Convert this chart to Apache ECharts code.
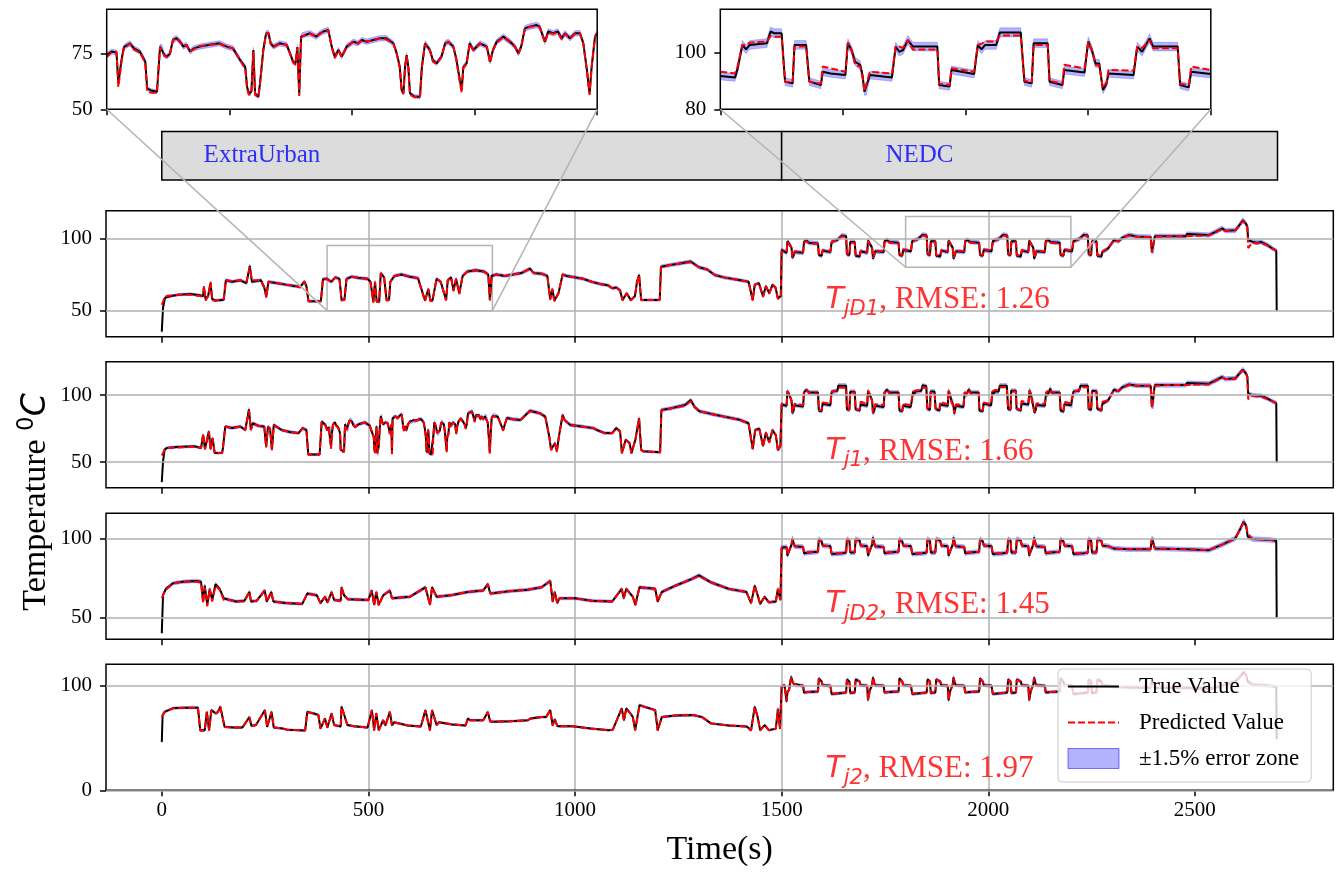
<!DOCTYPE html>
<html><head><meta charset="utf-8">
<script src="https://cdn.jsdelivr.net/npm/echarts@6/dist/echarts.min.js"></script>
<style>html,body{margin:0;padding:0;background:#fff}#c{width:1338px;height:872px}</style>
</head><body><div id="c"></div>
<script>
// ---------------- data ----------------
const xTicks = [0, 500, 1000, 1500, 2000, 2500];
const yTicks = [[50, 100], [50, 100], [50, 100], [0, 100]];
const insetXTicks = [[400, 500, 600, 700, 800], [1800, 1900, 2000, 2100, 2200]];
const insetYTicks = [[50, 75], [80, 100]];
const panelSub = ['jD1', 'j1', 'jD2', 'j2'];
const rmse = [1.26, 1.66, 1.45, 1.97];
const ERR = 0.015; // ±1.5 % error zone
const segments = [{name: 'ExtraUrban', from: 0, to: 1500, labelAt: 100}, {name: 'NEDC', from: 1500, to: 2700, labelAt: 1750}];
const zoomWindows = [{x: [400, 800], y: [50, 95]}, {x: [1800, 2200], y: [80, 115.1]}];

// rows: [time s, true value, predicted value]
const s1 = [
[0,35.5,54],[3,52,55],[8,59,60],[20,60,60.5],[40,61,61],[70,61.5,61],[95,60.5,60],[100,60,61],[102,66,67],[106,58,57],[112,60,60],[118,69,70],[122,58,57],[130,57,57],[150,57.5,58],[155,71,71],[170,70,70.5],[190,71,71],[205,69,70],[213,81,80],[218,70,71],[240,71,71],[248,66,66],[253,59.7,59],[258,70,70],[280,69,69],[300,68,68],[320,67,67.5],[335,66.5,66],[345,70,70.5],[350,67,67],[355,56.5,56.5],[385,56.5,56.5],[390,71.7,72],[400,72,72],[410,70,69.5],[420,73,73],[430,72,72],[435,57.5,57],[442,57.5,57.5],[447,72,72],[460,73.5,73.5],[480,72.5,72.5],[498,72,72],[505,70,70],[512,56,55.5],[516,70,70],[520,56.5,56],[526,56,56],[530,76,76],[538,73,73],[544,57.4,57],[550,57.4,57.4],[553,70,70],[563,74,74],[580,75,75],[600,73.5,73.5],[620,72.5,72.5],[637,57,56.5],[645,65,65],[650,57,56.5],[655,57,57],[665,72,72],[675,70,70],[688,57.4,57],[692,71,71],[700,73,73],[706,64,63.5],[712,72,72],[720,62,61.5],[728,74,74],[739,77,77],[760,78,78],[780,77,77],[790,75,75],[794,57.4,57],[798,74,74],[810,75,75],[830,74,74],[850,75,75],[870,76,76],[891,79,79],[900,76,76],[920,75.5,75.5],[933,74,74],[940,58,57.5],[945,65,65],[950,57,56.5],[960,62,62],[970,75,75],[980,74,74],[1000,73,73],[1020,72,72],[1040,70,70],[1060,68.5,68.5],[1080,67.5,67.5],[1090,65.5,65.5],[1100,66,66],[1109,64,64],[1115,57.4,57],[1125,62,62],[1135,57.4,57],[1145,60,60],[1150,70,70],[1155,74.7,74.5],[1160,57.4,57.4],[1205,57.4,57.4],[1208,80.4,80],[1230,81.5,81.5],[1250,82.5,82.5],[1280,84,83.5],[1300,80,80],[1320,78.5,78.5],[1338,74.7,74.7],[1360,73,73],[1390,71.5,71.5],[1420,70,70],[1430,57.4,57],[1435,68,68],[1445,69,69],[1455,60,59.5],[1462,67,67],[1470,62,62],[1478,68,68],[1485,66,66],[1491,58.6,58],[1498,60,60],
[1500,92,91],[1512,90,90.5],[1514,98,97.5],[1518,96.5,96.5],[1524,93.5,93.5],[1526,86.5,87],[1529,88,88.5],[1531,90.5,91],[1552,90,90.5],[1554,97.5,97],[1560,98.5,98],[1566,97,96.5],[1588,96.5,96],[1590,88.5,89],[1597,88,88.5],[1599,91.5,92],[1618,90.5,91],[1621,97.5,97.5],[1635,99,99],[1646,102,101.5],[1656,101.5,101],[1658,89,89.5],[1664,88.5,89],[1666,97.5,97],[1677,97.5,97],[1679,88,88.5],[1689,87.5,88],[1691,91,91.5],
[1707,90,90.5],[1709,98.5,98],[1713,96.5,96.5],[1719,93.5,93.5],[1721,86,86.5],[1724,88,88.5],[1726,91,91.5],[1747,90.5,91],[1749,98,97.5],[1755,99,98.5],[1761,97.5,97],[1783,97,96.5],[1785,88.5,89],[1792,88,88.5],[1794,92,92.5],[1813,91,91.5],[1816,98,98],[1830,99.5,99.5],[1841,102.5,102],[1851,102,101.5],[1853,89,89.5],[1859,88.5,89],[1861,98,97.5],[1872,98,97.5],[1874,88,88.5],[1884,87.5,88],[1886,91.5,92],
[1902,90.5,91],[1904,98.5,98],[1908,96.5,96.5],[1914,93.5,93.5],[1916,86,86.5],[1919,88,88.5],[1921,91,91.5],[1942,90.5,91],[1944,98,97.5],[1950,99,98.5],[1956,97.5,97],[1978,97,96.5],[1980,88.5,89],[1987,88,88.5],[1989,92,92.5],[2008,91,91.5],[2011,98,98],[2025,99.5,99.5],[2036,102.5,102],[2046,102,101.5],[2048,89,89.5],[2054,88.5,89],[2056,98,97.5],[2067,98,97.5],[2069,88,88.5],[2079,87.5,88],[2081,91.5,92],
[2097,90.5,91],[2099,98.5,98],[2103,96.5,96.5],[2109,93.5,93.5],[2111,86,86.5],[2114,88,88.5],[2116,91,91.5],[2137,90.5,91],[2139,98,97.5],[2145,99,98.5],[2151,97.5,97],[2173,97,96.5],[2175,88.5,89],[2182,88,88.5],[2184,92,92.5],[2203,91,91.5],[2206,98,98],[2220,99.5,99.5],[2231,102.5,102],[2241,102,101.5],[2243,89,89.5],[2249,88.5,89],[2251,98,97.5],[2262,98,97.5],[2264,88,88.5],[2274,87.5,88],[2276,90.5,91],
[2290,93,93],[2304,98.8,98.5],[2315,98,98],[2325,100.5,100.5],[2341,102.3,102],[2360,101.2,101],[2393,101,101],[2396,91,90],[2400,91,90.5],[2403,101.5,101],[2440,101.5,101.5],[2478,101.5,101.5],[2481,103,102.5],[2534,102.3,102],[2550,104.5,104],[2566,106.9,106.5],[2574,105.3,105],[2598,105.5,105.5],[2610,110,109.5],[2616,112.5,112],[2624,110,110],[2627,108,107],[2629,98.8,93.3],[2639,97.7,97],[2650,97,96.5],[2660,97.5,97],[2675,95.5,95],[2687,93.1,93],[2697,91.5,91.5],[2698,50,null]
];

const s2a = [
[0,35.2,55],[3,50.7,56],[7,59.4,59.5],[12,60.6,60.5],[35,61.3,61],[80,61.8,61.5],[95,60.6,60.5],[100,70.4,71],[104.5,60,59.5],[114,72.9,73],[118,60,59.5],[123,68,68],[128,56.9,56.5],[146,56.9,57],[148,60.6,60.5],[153.6,76.6,76.5],[170,75.5,75.5],[190,76.6,76.5],[202,74,74],[211,89.4,88.5],[215.6,74,74],[220,79,78.5],[235,77,77],[248,76.6,76.5],[252.6,61.8,61],[257,76.6,76.5],[262,75,75],[266.5,59.4,59],[271,77.8,77.5],[290,74,74],[310,72.5,72.5],[331,71.7,71.5],[340.6,75.4,75],[350,74,74],[354.5,55.7,55.5],[382,55.7,56],[387,80.3,80],[396,77.8,77.5]
];
const zoomA = [
[400,74.4,73.5],[404,76,75.5],[408,75.5,76],[409.5,61.7,60],[412,72,71],[414,78,77.5],[419,79.7,79.5],[422,77.5,77],[427,76,75.5],[430,73,72.5],[431.5,71.4,70],[433,59.4,58],[436,58.5,57.5],[441,57.9,57.5],[443.5,78.2,78],[445,78,78],[447,74.4,74],[449,73.7,73.5],[451.6,75,75],[454,81.2,81],[457,82,82],[460,80.4,80],[462.5,78.2,78.5],[465,79,79],[468,76,76],[471,77.4,77],[476,78.2,78.5],[484,79,79],[492,79.7,79.5],[498,78.2,78],[503,77.4,77.5],[509,72,72],[513,69,68],[514.5,60,59],[516,57,56.5],[518,58,57],[519.6,76.7,76],[521,57,56.5],[523.7,55.7,55.5],[525,61.7,61],[527.7,76.7,76.5],[530,84.2,84],[532,84.2,84.5],[533.7,79.7,79.5],[536,78.2,78],[541,79.7,79.5],[546.8,79,79],[549.5,75.2,75],[552,71.4,71],[554,70.7,70],[555.5,78,78],[557,57.2,56],[558.5,82.7,82],[560,83.4,83],[565.8,84.2,84],[571,82.7,82.5],[574,84.2,84],[576.7,85,85],[580.7,85.7,85.5],[583.5,78.2,78],[586,73.7,73],[589,76.7,76.5],[591.6,73.7,73.5],[595.7,78.2,78],[601,80.4,80.5],[605,79.7,79.5],[608,81.2,81],[612,80.4,80.5],[617.4,81.2,81],[622.9,82,82],[628,82,81.5],[633.8,79.7,79.5],[636.5,75.2,75],[639,69.2,68.5],[640.5,58.7,58],[642,57.2,57],[643.3,69.2,69],[644.6,74.4,74],[646,69,68.5],[647.3,57.2,56.5],[651,55.7,55.5],[655.5,55.7,55.5],[657,69,68.5],[659.6,79.7,79.5],[663.6,76.7,76.5],[666,72,71.5],[669,70.7,70.5],[673,73.7,73.5],[676,79.7,79.5],[678.6,80.4,80.5],[682.7,78.2,78],[685,73,72.5],[688,63.2,62],[689.5,58.7,57.5],[690.8,69,68.5],[693.5,70.7,70.5],[696,79.7,79.5],[699,76.7,76.5],[704.4,79.7,79.5],[710,78.2,78],[712.6,71.4,71],[715,76.7,76.5],[718,80.4,80],[723.5,82.7,82.5],[729,80.4,80],[733,78.2,78],[735.7,75.2,75],[738,78.2,78],[741,86.4,86],[745,87.2,87],[750.6,87.9,87.5],[753,87.2,87],[757.4,80.4,80],[760,85,84.5],[764,84.2,84],[768,85,84.5],[771,82,81.5],[773.7,84.2,84],[777.8,82,82],[782,84.2,84],[786,84.2,84],[788.7,79.7,79.5],[791.6,67.7,67],[793.8,57.2,56.5],[795.5,69.2,69],[798.2,82.7,82.5],[800,84.2,84]
];
const s2b = [
[803,85.2,85],[813,84,84],[826,74,73.5],[835,83,83],[850,82,82],[868,81.5,81.5],[891,88.4,88],[914.5,86.5,86.5],[928,84,84],[937.6,69.2,69],[942,59.4,59],[951.5,64.3,64],[956,58.1,58],[961,69.2,69],[970,85.2,85],[974.6,81.5,81.5],[988.5,77.8,77.5],[1020,76.5,76.5],[1044,75.4,75.5],[1053,74,74],[1072,71.7,71.5],[1090,71.7,71.5],[1099.6,75.4,75],[1109,73,73],[1113.5,56.9,56.5],[1122.7,66.8,66.5],[1132,64.3,64],[1136.6,56.9,56.5],[1146,66.8,66.5],[1155,82.8,82.5],[1160,59.4,59],[1165,58.1,58],[1206,57.4,57.5],[1209,88.9,88.5],[1230,90,90],[1266,92.6,92],[1280,96.3,95.5],[1289,91.4,91],[1301,88,88],[1330,86,86],[1360,84,84],[1398,81.7,81.5],[1420,79,79],[1430,60,59.5],[1436,74,73.5],[1446,75,75],[1455,62,61.5],[1462,72,72],[1470,65,64.5],[1478,74,74],[1486,70,70],[1491,59,58.5],[1497,62,62],
[1500,93,93.5],[1512,92,93],[1514,103,103],[1518,100.5,101],[1524,96,95.5],[1526,86.5,87],[1529,88.5,89],[1531,92.5,93.5],[1552,91.5,92.5],[1554,102,102],[1560,104,104],[1566,102,101.5],[1588,102,101],[1590,88.5,89],[1597,88,88.5],[1599,93.5,94.5],[1618,92.5,93.5],[1621,102.5,102.5],[1635,103.2,103.8],[1637,107,105.5],[1656,107,105.5],[1658,89.5,89.5],[1664,89,89.5],[1666,102.5,102],[1677,102.5,102],[1679,89.5,89.5],[1689,88.5,89],[1691,93,95],
[1707,92,93.5],[1709,103,103.5],[1713,100.5,101],[1719,96,95.5],[1721,86.5,87],[1724,88,88.5],[1726,92,93.2],[1747,91.2,92.6],[1749,102,102],[1755,104,104],[1761,102,101],[1783,102,101],[1785,88.5,89],[1792,88,88.5],[1794,92.5,93.5]
];
const zoomB = [
[1800,91.7,93.2],[1812,91.2,92.6],[1814,94,95],[1818,102.6,102.6],[1821,101,102.6],[1824,102.6,103.4],[1838,103.2,103.8],[1841,107.3,105.7],[1844,106.7,105.5],[1850,106.7,105.5],[1852.8,89.7,89.7],[1859,89.1,89.5],[1860.5,102.6,102],[1870,102.6,102],[1872.6,89.7,89.7],[1882,88.5,89],[1883.5,93.2,95],[1890,92.6,94.4],[1902,92,93.2],[1904,103.2,103.5],[1907,100.8,101],[1910,96.7,95.5],[1914,95.6,95],[1916,92,91],[1917.5,86.2,86.5],[1919,86.2,87],[1922,92,93.2],[1940,91.2,92.6],[1943,102,102],[1946,100.2,102],[1949,100.8,101.5],[1953,104.3,104.3],[1957,102,101],[1977,102,101],[1978.5,88.5,89],[1987,88,88.5],[1988.5,93.8,94.4],[2007,92.4,93.2],[2010,102.6,102.6],[2013,101,103],[2016,102.6,103.8],[2025,102.6,103.8],[2028,107,105.9],[2045,107,105.9],[2048,89.7,90],[2054,89.1,89.5],[2055.5,103.2,102.6],[2067,103.2,102.6],[2068.5,89.7,90],[2079,88.5,89],[2080.5,93.8,95.6],[2097,92.9,94.4],[2100,103.8,103.5],[2103,100.8,101],[2106,96.1,95.5],[2109,96.1,95.5],[2112,86.8,87.5],[2115,89,89.5],[2116.5,92.6,93.8],[2137,92,93.6],[2140,102,102],[2144,100.2,101.5],[2150,104.9,104.3],[2153,102,101.4],[2173,102,101.4],[2175,88.5,89],[2182,87.7,88.5],[2184,93.2,95],[2200,92.4,93.8]
];
const s2c = [
[2203,92,93.5],[2206,102.6,102.6],[2220,103.2,103.8],[2223,107,105.9],[2241,107,105.9],[2243,89.7,90],[2249,89.1,89.5],[2251,103,102.6],[2262,103,102.6],[2264,89.7,90],[2274,88.5,89],[2276,93.5,95],
[2290,96,96],[2304,104,103.5],[2315,103,103],[2325,106,105.5],[2341,108,107.5],[2360,107,107],[2393,107,107],[2396,91,90.5],[2400,91.5,91],[2403,107.5,107],[2440,107.5,107.5],[2478,107.5,107.5],[2481,109,108.5],[2534,108.5,108],[2550,111,110.5],[2566,113.5,113],[2574,112,112],[2598,112.5,112],[2610,117,116.5],[2616,119,118.5],[2624,116,116],[2627,114,113],[2629,101,97],[2639,100,99.5],[2650,99.5,99],[2660,99.5,99],[2675,97.5,97],[2687,95.5,95.5],[2697,94,94],[2698,50,null]
];

const s3 = [
[0,40,62],[3,64,64],[10,68,67.5],[27,71.5,71.5],[50,72.5,72.5],[84,73,72.5],[95,72.5,72],[100,60,59],[104,70,69],[110,58,57],[116,68,68],[122,61,60],[130,71,70],[140,68,67.5],[150,62,61],[165,61,61],[180,60,60],[200,60.5,60],[212,66,66],[216,60,60],[230,60.5,60.5],[249,67,67],[254,60,60],[265,66,66],[270,60,60],[300,59,59],[340,58.5,58.5],[352,65,65],[375,64,64],[384,59,59],[395,63,63],[401,59.5,59.5],[411,66,66],[417,61,61],[433,60.5,60.5],[435,69,69],[441,64,64],[450,61.5,61.5],[500,61,61],[508,67,67],[514,58,57.5],[519,66,66],[525,58,57.5],[536,64,64],[552,67,67],[557,62,62],[600,63,63],[638,69,69],[649,58,57.5],[654,69,69],[665,63,63],[700,64,64],[740,66,66],[778,67,67],[789,71,71],[795,65,65],[840,66.5,66.5],[886,67.5,67.5],[919,69,69],[940,73,73],[946,60,60],[951,66,66],[957,59,59],[962,62,62],[1000,62,62],[1040,60.5,60.5],[1090,60,60],[1113,68,68],[1118,62,62],[1124,68,68],[1140,63,63],[1146,58,57.5],[1156,69,69],[1194,68,68],[1200,60,60],[1210,66,66],[1243,70,70],[1280,74,74],[1300,76.5,76],[1330,72,72],[1372,68,68],[1415,66,66],[1426,59,59],[1435,70,70],[1442,64,64],[1448,58.5,58.5],[1459,63,63],[1469,59.5,59.5],[1486,60,60],[1491,68,68],[1497,61,61],
[1500,94,94],[1512,94.5,94.5],[1514,89,89.5],[1518,92,92],[1524,96,96],[1526,100,99.5],[1529,97,97],[1531,95,95],[1552,94.5,94.5],[1554,90.5,91],[1566,91,91],[1588,91.5,91.5],[1590,99.5,99],[1597,98,98],[1599,95.5,95.5],[1618,95,95],[1621,90,90.5],[1646,90.5,90.5],[1656,91,91],[1658,99.5,99],[1664,98.5,98.5],[1666,91,91.5],[1677,91,91],[1679,99.5,99],[1689,98.5,98.5],[1691,95.5,95.5],
[1707,95,95],[1709,89,89.5],[1713,92,92],[1719,96,96],[1721,100.5,100],[1724,97,97],[1726,95,95],[1747,94.5,94.5],[1749,90.5,91],[1761,91,91],[1783,91.5,91.5],[1785,99.5,99],[1792,98,98],[1794,95.5,95.5],[1813,95,95],[1816,90,90.5],[1841,90.5,90.5],[1851,91,91],[1853,99.5,99],[1859,98.5,98.5],[1861,91,91.5],[1872,91,91],[1874,99.5,99],[1884,98.5,98.5],[1886,95.5,95.5],
[1902,95,95],[1904,89,89.5],[1908,92,92],[1914,96,96],[1916,100.5,100],[1919,97,97],[1921,95,95],[1942,94.5,94.5],[1944,90.5,91],[1956,91,91],[1978,91.5,91.5],[1980,99.5,99],[1987,98,98],[1989,95.5,95.5],[2008,95,95],[2011,90,90.5],[2036,90.5,90.5],[2046,91,91],[2048,99.5,99],[2054,98.5,98.5],[2056,91,91.5],[2067,91,91],[2069,99.5,99],[2079,98.5,98.5],[2081,95.5,95.5],
[2097,95,95],[2099,89,89.5],[2103,92,92],[2109,96,96],[2111,100.5,100],[2114,97,97],[2116,95,95],[2137,94.5,94.5],[2139,90.5,91],[2151,91,91],[2173,91.5,91.5],[2175,99.5,99],[2182,98,98],[2184,95.5,95.5],[2203,95,95],[2206,90,90.5],[2231,90.5,90.5],[2241,91,91],[2243,99.5,99],[2249,98.5,98.5],[2251,91,91.5],[2262,91,91],[2264,99.5,99],[2274,98.5,98.5],[2276,95.5,95.5],
[2290,95,95],[2304,93.5,93.5],[2341,93,93],[2393,93,93],[2396,100,99.5],[2400,99,99],[2403,93.5,93.5],[2480,93,93],[2534,92.5,92.5],[2566,96,96],[2598,100,100],[2610,106,106],[2618,110.5,110],[2624,108,108],[2628,101,103],[2640,99.5,99.5],[2680,99,99],[2697,98.5,98.5],[2698,50,null]
];

const s4 = [
[0,46.3,70],[2,71.9,70],[6.5,75,74.5],[28,78.6,78.5],[60,79,79],[87.5,79,79],[93,57.5,57],[104,57.5,57],[109,75,75],[114.5,57.5,57],[120,76.7,76.5],[131,73.5,73.5],[136,75,75],[141.5,80,80],[147,70,70],[152,60.7,60.5],[174,60,60],[195,60,60],[212,70,70],[217,61.5,61.5],[228,62.4,62.4],[249.5,76.7,76.5],[255,60.7,60.5],[265.6,75,75],[271,60,60],[293,59,59],[303,58,58],[347,57.2,57.2],[352,75,74.5],[368,73.5,73.5],[379,72,72],[384,59,59],[395,68.7,68.5],[400.6,60,60],[411,73.5,73.5],[417,62.4,62.4],[433,61,61],[435,80,79.5],[441.6,72,72],[449,62.4,62.4],[465,61.3,61.3],[498,60,60],[508.5,76.7,76.5],[514,57.5,57],[519,73.5,73.5],[525,57.5,57],[535.6,67,67],[541,62,62],[552,75,75],[557,62,62],[562.5,65,65],[595,62,62],[627,61,61],[638,76.7,76.5],[649,57.5,57],[654,76.7,76.5],[665,62.4,62.4],[670.5,65,65],[703,63,63],[735,62,62],[740.7,68.7,68.5],[746,67,67],[778,67,67],[789,75,75],[794.6,66,66],[800,65.5,65.5],[843,66,66],[886,67,67],[892,68.7,68.5],[919,70,70],[930,70,70],[940,76.7,76.5],[946,62,62],[951,68,68],[957,61.5,61.5],[962,61.3,61.3],[994,61.3,61.3],[1005,60.7,60.7],[1038,59,59],[1081,57.5,57.5],[1091.5,58,58],[1113,78.3,78],[1118.5,67,67],[1124,78.3,78],[1135,73,73],[1140,70,70],[1145.5,57.5,57],[1156,81.5,81],[1167,80,80],[1194,76.7,76.5],[1200,57.5,57],[1210,70,70],[1243,71.5,71.5],[1286,72,72],[1307.5,70,70],[1329,64,64],[1372,62,62],[1415.5,61,61],[1426,57.5,57],[1435,80,79.5],[1442,70,70],[1448,57.5,57],[1459,62.4,62.4],[1469,57.5,57.5],[1486,59,59],[1491,78,77.5],[1496,59,59],
[1500,99,99],[1507,100.5,100.5],[1512,84.7,85.5],[1514,94,94],[1518,96,96],[1523,108.6,108],[1526,104,104],[1529,102,102],[1531,100.5,100.5],[1552,100,100],[1554,93.5,94],[1566,94,94],[1588,94.5,94.5],[1590,107,106.5],[1597,104,104],[1599,100.5,100.5],[1618,100,100],[1621,92,92.5],[1646,93,93],[1656,93.5,93.5],[1658,106,105.5],[1664,104,104],[1666,93,93.5],[1677,93.5,93.5],[1679,106,105.5],[1689,104,104],[1691,100.5,100.5],
[1707,100,100],[1709,86,86.5],[1713,95,95],[1719,101,101],[1721,108,107.5],[1724,103,103],[1726,100.5,100.5],[1747,100,100],[1749,93.5,94],[1761,94,94],[1783,94.5,94.5],[1785,107,106.5],[1792,104,104],[1794,100.5,100.5],[1813,100,100],[1816,92,92.5],[1841,93,93],[1851,93.5,93.5],[1853,106,105.5],[1859,104,104],[1861,93,93.5],[1872,93.5,93.5],[1874,106,105.5],[1884,104,104],[1886,100.5,100.5],
[1902,100,100],[1904,86,86.5],[1908,95,95],[1914,101,101],[1916,108,107.5],[1919,103,103],[1921,100.5,100.5],[1942,100,100],[1944,93.5,94],[1956,94,94],[1978,94.5,94.5],[1980,107,106.5],[1987,104,104],[1989,100.5,100.5],[2008,100,100],[2011,92,92.5],[2036,93,93],[2046,93.5,93.5],[2048,106,105.5],[2054,104,104],[2056,93,93.5],[2067,93.5,93.5],[2069,106,105.5],[2079,104,104],[2081,100.5,100.5],
[2097,100,100],[2099,86,86.5],[2103,95,95],[2109,101,101],[2111,108,107.5],[2114,103,103],[2116,100.5,100.5],[2137,100,100],[2139,93.5,94],[2151,94,94],[2173,94.5,94.5],[2175,107,106.5],[2182,104,104],[2184,100.5,100.5],[2203,100,100],[2206,92,92.5],[2231,93,93],[2241,93.5,93.5],[2243,106,105.5],[2249,104,104],[2251,93,93.5],[2262,93.5,93.5],[2264,106,105.5],[2274,104,104],[2276,100.5,100.5],
[2290,100,100],[2304,99,99],[2341,98.5,98.5],[2393,98,98],[2396,105,104.5],[2400,104,104],[2403,98,98],[2480,98,98],[2534,97,97],[2566,100,100],[2598,104,104],[2610,109,109],[2618,113,112.5],[2624,110,110],[2628,104,105],[2640,101,101],[2680,100,100],[2697,99,99],[2698,49,null]
];

const s2 = [].concat(s2a, zoomA, s2b, zoomB, s2c);
const panels = [s1, s2, s3, s4];
const insets = [zoomA, zoomB];

// ---------------- chart ----------------
const chart = echarts.init(document.getElementById('c'), null, {renderer: 'canvas'});
const SERIF = 'Liberation Serif';
const GRID_LEFT = 106, GRID_W = 1227.3;
const panelTop = [210.7, 361.7, 513.3, 664.3];
const panelH = 126;
const yRange = [[32, 119.1], [31, 124.9], [36.1, 115.8], [0, 120.5]];
const noteY = [57.5, 58, 58, 20.5];
const BAND_FILL = 'rgba(0,0,255,0.3)';
const GRID_GRAY = '#b0b0b0';

const grids = [], xAxes = [], yAxes = [], series = [];
const tickStyle = {show: true, inside: false, length: 6, lineStyle: {color: '#000', width: 1.5}};
const noLine = {show: false, onZero: false};
const fmt = v => String(v);

function addPanelSeries(idx, rows, withMarks) {
  // error band polygon drawn through the axes' own scales
  series.push({type: 'custom', name: '±1.5% error zone', xAxisIndex: idx, yAxisIndex: idx, silent: true, z: 1,
    itemStyle: {color: BAND_FILL},
    data: [[rows[0][0], rows[0][1]]],
    renderItem: function (params, api) {
      const up = rows.map(r => api.coord([r[0], r[1] * (1 + ERR)]));
      const lo = rows.map(r => api.coord([r[0], r[1] * (1 - ERR)])).reverse();
      return {type: 'polygon', shape: {points: up.concat(lo)},
        style: {fill: BAND_FILL, stroke: 'rgba(0,0,255,0.25)', lineWidth: 0.8}};
    }});
  const trueSeries = {type: 'line', name: 'True Value', xAxisIndex: idx, yAxisIndex: idx,
    data: rows.map(r => [r[0], r[1]]),
    symbol: 'none', silent: true, color: '#000', lineStyle: {width: 2, color: '#000'}, z: 2};
  if (withMarks) {
    trueSeries.markArea = {silent: true, itemStyle: {color: 'rgba(0,0,0,0)', borderColor: '#b4b4b4', borderWidth: 1.5},
      data: zoomWindows.map(w => [{xAxis: w.x[0], yAxis: w.y[0]}, {xAxis: w.x[1], yAxis: w.y[1]}])};
  }
  series.push(trueSeries);
  series.push({type: 'line', name: 'Predicted Value', xAxisIndex: idx, yAxisIndex: idx,
    data: rows.filter(r => r[2] != null).map(r => [r[0], r[2]]),
    symbol: 'none', silent: true, color: '#ff0000', lineStyle: {width: 2, color: '#ff0000', type: [7, 3]}, z: 3});
}

for (let i = 0; i < 4; i++) {
  grids.push({left: GRID_LEFT, top: panelTop[i], width: GRID_W, height: panelH, show: true,
    borderColor: '#000', borderWidth: 1.5, backgroundColor: 'rgba(0,0,0,0)', z: 5});
  xAxes.push({type: 'value', gridIndex: i, position: 'bottom', min: -135, max: 2835, minInterval: 500, maxInterval: 500,
    axisLine: noLine, axisTick: Object.assign({customValues: xTicks}, tickStyle),
    axisLabel: {show: i === 3, customValues: xTicks, formatter: fmt,
      fontFamily: SERIF, fontSize: 21, color: '#000', margin: 10},
    splitLine: {show: true, showMinLine: false, showMaxLine: false, lineStyle: {color: GRID_GRAY, width: 1.5}},
    name: i === 3 ? 'Time(s)' : '', nameLocation: 'middle', nameGap: 43,
    nameTextStyle: {fontFamily: SERIF, fontSize: 34, color: '#000'}});
  yAxes.push({type: 'value', gridIndex: i, position: 'left', min: yRange[i][0], max: yRange[i][1],
    axisLine: noLine, axisTick: Object.assign({customValues: yTicks[i]}, tickStyle),
    axisLabel: {customValues: yTicks[i], formatter: fmt,
      fontFamily: SERIF, fontSize: 21, color: '#000', margin: 14},
    splitLine: {show: false}});
  // horizontal grid lines at the y ticks
  series.push({type: 'line', xAxisIndex: i, yAxisIndex: i, data: [[-1000, -1000]], symbol: 'none', silent: true, z: 0,
    lineStyle: {width: 0},
    markLine: {silent: true, symbol: ['none', 'none'], label: {show: false}, animation: false,
      lineStyle: {color: GRID_GRAY, width: 1.5, type: 'solid'},
      data: yTicks[i].map(v => ({yAxis: v}))}});
  addPanelSeries(i, panels[i], i === 0);
  series.push({type: 'scatter', xAxisIndex: i, yAxisIndex: i, silent: true, symbolSize: 1,
    itemStyle: {color: 'rgba(0,0,0,0)'}, data: [[1600, noteY[i]]], z: 6,
    label: {show: true, position: 'right', distance: 2,
      formatter: '{a|T}{b|' + panelSub[i] + '}{c|, RMSE: ' + rmse[i].toFixed(2) + '}',
      rich: {
        a: {fontFamily: 'DejaVu Sans', fontStyle: 'italic', fontSize: 30, color: '#ff0000', lineHeight: 40},
        b: {fontFamily: 'DejaVu Sans', fontStyle: 'italic', fontSize: 21, color: '#ff0000', lineHeight: 20, verticalAlign: 'bottom'},
        c: {fontFamily: SERIF, fontSize: 31, color: '#ff0000', lineHeight: 40}
      }}});
}

// insets
const insetLeft = [106.7, 720.3];
for (let k = 0; k < 2; k++) {
  const gi = 4 + k;
  const w = zoomWindows[k];
  grids.push({left: insetLeft[k], top: 9.3, width: 490.5, height: 100, show: true,
    borderColor: '#000', borderWidth: 1.5, backgroundColor: 'rgba(0,0,0,0)', z: 5});
  xAxes.push({type: 'value', gridIndex: gi, position: 'bottom', min: w.x[0], max: w.x[1], minInterval: 100, maxInterval: 100,
    axisLine: noLine, axisTick: Object.assign({customValues: insetXTicks[k]}, tickStyle),
    axisLabel: {show: false}, splitLine: {show: false}});
  yAxes.push({type: 'value', gridIndex: gi, position: 'left', min: w.y[0], max: w.y[1],
    axisLine: noLine, axisTick: Object.assign({customValues: insetYTicks[k]}, tickStyle),
    axisLabel: {customValues: insetYTicks[k], formatter: fmt,
      fontFamily: SERIF, fontSize: 21, color: '#000', margin: 14},
    splitLine: {show: false}});
  addPanelSeries(gi, insets[k], false);
}

// driving-cycle banner
grids.push({left: GRID_LEFT, top: 131.5, width: GRID_W, height: 48.5, show: false});
xAxes.push({type: 'value', gridIndex: 6, min: -135, max: 2835, show: false});
yAxes.push({type: 'value', gridIndex: 6, min: 0, max: 1, show: false});
series.push({type: 'scatter', xAxisIndex: 6, yAxisIndex: 6, silent: true, symbolSize: 1,
  itemStyle: {color: 'rgba(0,0,0,0)'},
  data: segments.map(s => ({value: [s.labelAt, 0.5], name: s.name})),
  label: {show: true, position: 'right', distance: 0, formatter: p => p.name,
    fontFamily: SERIF, fontSize: 25, color: '#0000ff'},
  markArea: {silent: true, itemStyle: {color: '#dcdcdc', borderColor: '#000', borderWidth: 1.5},
    data: segments.map(s => [{xAxis: s.from, yAxis: 0}, {xAxis: s.to, yAxis: 1}])},
  z: 4});

const yLabel = {type: 'text', id: 'ylab', x: 36, y: 502, rotation: Math.PI / 2, silent: true,
  style: {text: '{t|Temperature }{s|0}{c|C}', align: 'center', verticalAlign: 'middle',
    rich: {
      t: {fontFamily: SERIF, fontSize: 34, fill: '#000', lineHeight: 40},
      s: {fontFamily: 'DejaVu Sans', fontSize: 23, fill: '#000', lineHeight: 40, verticalAlign: 'top', padding: [0, 0, 14, 0]},
      c: {fontFamily: 'DejaVu Sans', fontStyle: 'italic', fontSize: 33, fill: '#000', lineHeight: 40}
    }}};

chart.setOption({
  animation: false,
  backgroundColor: '#fff',
  grid: grids, xAxis: xAxes, yAxis: yAxes, series: series,
  legend: {show: true, selectedMode: false, orient: 'vertical', left: 1058, top: 669,
    itemWidth: 51, itemHeight: 20, itemGap: 13, padding: [6, 12, 12, 9],
    backgroundColor: 'rgba(255,255,255,0.8)', borderColor: '#cccccc', borderWidth: 1, borderRadius: 4,
    textStyle: {fontFamily: SERIF, fontSize: 23, color: '#000', padding: [0, 0, 0, 15]},
    data: [{name: 'True Value', itemStyle: {opacity: 0}}, {name: 'Predicted Value', itemStyle: {opacity: 0}},
      {name: '±1.5% error zone', icon: 'rect', itemStyle: {opacity: 1, color: BAND_FILL, borderColor: 'rgba(0,0,255,0.5)', borderWidth: 1}}],
    z: 20},
  graphic: [yLabel]
});

// connector lines from the insets to the zoom rectangles on the first panel
const conn = [];
zoomWindows.forEach((w, k) => {
  [w.x[0], w.x[1]].forEach((xv, j) => {
    const a = chart.convertToPixel({gridIndex: 4 + k}, [xv, w.y[0]]);
    const b = chart.convertToPixel({gridIndex: 0}, [xv, w.y[0]]);
    conn.push({type: 'line', id: 'conn' + k + j, silent: true, z: 30,
      shape: {x1: a[0], y1: a[1], x2: b[0], y2: b[1]}, style: {stroke: '#b4b4b4', lineWidth: 1.5}});
  });
});
chart.setOption({graphic: [yLabel].concat(conn)});
</script></body></html>
